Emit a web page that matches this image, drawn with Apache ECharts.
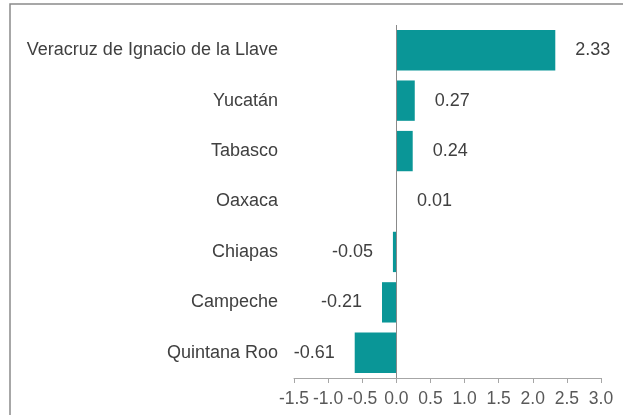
<!DOCTYPE html>
<html>
<head>
<meta charset="utf-8">
<script src="https://cdn.jsdelivr.net/npm/echarts@6/dist/echarts.min.js"></script>
<style>
  html, body { margin: 0; padding: 0; background: #fff; }
  #chart { width: 623px; height: 415px; }
</style>
</head>
<body>
<div id="chart"></div>
<script>
// estados, de arriba hacia abajo
const estados = ['Veracruz de Ignacio de la Llave', 'Yucatán', 'Tabasco', 'Oaxaca', 'Chiapas', 'Campeche', 'Quintana Roo'];
const valores = [2.33, 0.27, 0.24, 0.01, -0.05, -0.21, -0.61];
const ejeMin = -1.5;
const ejeMax = 3.0;
const ejePaso = 0.5;

const chart = echarts.init(document.getElementById('chart'));

const option = {
  animation: false,
  textStyle: { fontFamily: 'Liberation Sans, Arial, sans-serif' },
  graphic: [{
    type: 'rect',
    silent: true,
    shape: { x: 10, y: 4, width: 800, height: 600 },
    style: { fill: 'none', stroke: '#8a8a8a', lineWidth: 1.5 }
  }],
  grid: { left: 294, right: 22, top: 25, bottom: 37 },
  xAxis: {
    type: 'value',
    min: ejeMin,
    max: ejeMax,
    interval: ejePaso,
    axisLine: { show: true, lineStyle: { color: '#a6a6a6', width: 1 } },
    axisTick: { show: true, length: 5, lineStyle: { color: '#a6a6a6' } },
    splitLine: { show: false },
    axisLabel: {
      fontSize: 17.5,
      color: '#595959',
      margin: 12,
      formatter: v => v.toFixed(1)
    }
  },
  yAxis: {
    type: 'category',
    data: estados,
    inverse: true,
    axisLine: { show: false, onZero: false },
    axisTick: { show: false },
    axisLabel: { fontSize: 18, color: '#404040', margin: 16 }
  },
  series: [{
    type: 'bar',
    barCategoryGap: '20%',
    itemStyle: { color: '#0A9697' },
    data: valores.map(v => ({
      value: v,
      label: {
        show: true,
        position: v >= 0 ? 'right' : 'left',
        distance: 20,
        fontSize: 18,
        color: '#404040',
        formatter: p => p.value.toFixed(2)
      }
    })),
    markLine: {
      silent: true,
      symbol: 'none',
      label: { show: false },
      lineStyle: { color: '#8a8a8a', type: 'solid', width: 1 },
      data: [{ xAxis: 0 }]
    }
  }]
};

chart.setOption(option);
</script>
</body>
</html>
